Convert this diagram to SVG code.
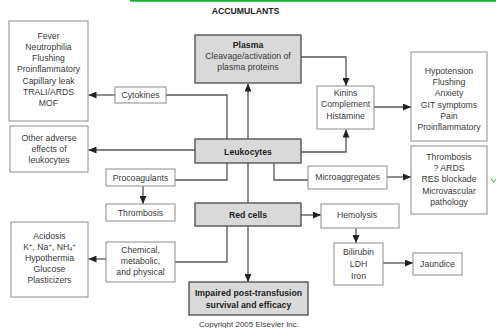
<svg xmlns="http://www.w3.org/2000/svg" width="496" height="328" viewBox="0 0 496 328">
<defs>
<style>
.main{fill:#d9d9d9;stroke:#4a4a4a;stroke-width:1.3}
.box{fill:#fff;stroke:#8c8c8c;stroke-width:1}
text{font-family:"Liberation Sans",Arial,sans-serif;font-size:8.7px;fill:#3a3a3a;text-anchor:middle}
.b{font-weight:bold;fill:#222}
.c{stroke:#555;stroke-width:1.3;fill:none}
.a{marker-end:url(#arr)}
</style>
<marker id="arr" markerUnits="userSpaceOnUse" markerWidth="8" markerHeight="7" refX="8" refY="3.5" orient="auto">
<path d="M0,0 L8,3.5 L0,7 Z" fill="#222"/>
</marker>
</defs>
<rect width="496" height="328" fill="#fff"/>
<line x1="130" y1="0.8" x2="496" y2="0.8" stroke="#22a83a" stroke-width="1.8"/>
<polyline points="491,178 493.5,182.5 496,179" fill="none" stroke="#4cb84c" stroke-width="1"/>
<g id="title"><text class="b" x="245.5" y="14">ACCUMULANTS</text></g>

<g id="connectors">
<path class="c a" d="M248,139 V83.5"/>
<path class="c a" d="M301,57 H346 V86"/>
<path class="c a" d="M374,107 H411"/>
<path class="c a" d="M301,152 H346 V129.5"/>
<path class="c" d="M227,139 V95 H166"/>
<path class="c a" d="M115,95 H88.5"/>
<path class="c a" d="M195,150 H88.5"/>
<path class="c" d="M227,163 V180 H175"/>
<path class="c a" d="M143,186 V204"/>
<path class="c" d="M274,163 V180 H308"/>
<path class="c a" d="M387,177 H411"/>
<path class="c" d="M248,163 V203"/>
<path class="c a" d="M301,215 H321"/>
<path class="c a" d="M356,228 V243"/>
<path class="c a" d="M383,263 H413"/>
<path class="c" d="M227,226 V262 H175"/>
<path class="c a" d="M106,259 H88.5"/>
<path class="c a" d="M248,226 V282"/>
</g>

<g id="plasma"><rect class="main" x="195" y="35" width="106" height="48"/>
<text class="b" x="248" y="47.5">Plasma</text><text x="248" y="58.5">Cleavage/activation of</text><text x="248" y="69.5">plasma proteins</text></g>
<g id="kinins"><rect class="box" x="317" y="86" width="57" height="43"/>
<text x="345.5" y="96">Kinins</text><text x="345.5" y="107">Complement</text><text x="345.5" y="118.5">Histamine</text></g>
<g id="hypotension"><rect class="box" x="411" y="52" width="76" height="89"/>
<text x="449" y="74">Hypotension</text><text x="449" y="85">Flushing</text><text x="449" y="96">Anxiety</text><text x="449" y="107.5">GIT symptoms</text><text x="449" y="119">Pain</text><text x="449" y="130">Proinflammatory</text></g>
<g id="fever"><rect class="box" x="9" y="21" width="79" height="100"/>
<text x="48.5" y="39">Fever</text><text x="48.5" y="50">Neutrophilia</text><text x="48.5" y="61">Flushing</text><text x="48.5" y="72">Proinflammatory</text><text x="48.5" y="84">Capillary leak</text><text x="48.5" y="95">TRALI/ARDS</text><text x="48.5" y="106">MOF</text></g>
<g id="cytokines"><rect class="box" x="115" y="87" width="51" height="16"/><text x="140.5" y="98">Cytokines</text></g>
<g id="other"><rect class="box" x="10" y="126" width="78" height="46"/>
<text x="49" y="141">Other adverse</text><text x="49" y="152">effects of</text><text x="49" y="163">leukocytes</text></g>
<g id="leukocytes"><rect class="main" x="195" y="139" width="106" height="24"/><text class="b" x="248" y="155">Leukocytes</text></g>
<g id="procoagulants"><rect class="box" x="106" y="169" width="69" height="17"/><text x="140.5" y="180.5">Procoagulants</text></g>
<g id="thrombosis-l"><rect class="box" x="106" y="204" width="69" height="17"/><text x="140.5" y="215.5">Thrombosis</text></g>
<g id="microaggregates"><rect class="box" x="308" y="166" width="79" height="23"/><text x="347.5" y="179.5">Microaggregates</text></g>
<g id="thrombosis-r"><rect class="box" x="411" y="146" width="76" height="68"/>
<text x="449" y="160">Thrombosis</text><text x="449" y="171">? ARDS</text><text x="449" y="182">RES blockade</text><text x="449" y="194">Microvascular</text><text x="449" y="205">pathology</text></g>
<g id="redcells"><rect class="main" x="195" y="203" width="106" height="23"/><text class="b" x="248" y="217.5">Red cells</text></g>
<g id="hemolysis"><rect class="box" x="321" y="204" width="78" height="24"/><text x="357" y="217.5">Hemolysis</text></g>
<g id="acidosis"><rect class="box" x="11" y="222" width="77" height="75"/>
<text x="49.5" y="239">Acidosis</text>
<text x="49.5" y="250">K<tspan font-size="6" dy="-3">+</tspan><tspan dy="3">, Na</tspan><tspan font-size="6" dy="-3">+</tspan><tspan dy="3">, NH</tspan><tspan font-size="5.5" dy="1">4</tspan><tspan font-size="6" dy="-4">+</tspan></text>
<text x="49.5" y="261">Hypothermia</text><text x="49.5" y="272">Glucose</text><text x="49.5" y="283">Plasticizers</text></g>
<g id="chemical"><rect class="box" x="106" y="242" width="69" height="40"/>
<text x="140.5" y="253">Chemical,</text><text x="140.5" y="264">metabolic,</text><text x="140.5" y="275">and physical</text></g>
<g id="bilirubin"><rect class="box" x="334" y="243" width="49" height="42"/>
<text x="358.5" y="255">Bilirubin</text><text x="358.5" y="267">LDH</text><text x="358.5" y="279">Iron</text></g>
<g id="jaundice"><rect class="box" x="413" y="253" width="49" height="22"/><text x="437.5" y="267">Jaundice</text></g>
<g id="impaired"><rect class="main" x="189" y="282" width="119" height="33"/>
<text class="b" x="248.5" y="296">Impaired post-transfusion</text><text class="b" x="248.5" y="308">survival and efficacy</text></g>
<g id="copyright"><text x="249" y="327" style="font-size:8px">Copyright 2005 Elsevier Inc.</text></g>
</svg>
